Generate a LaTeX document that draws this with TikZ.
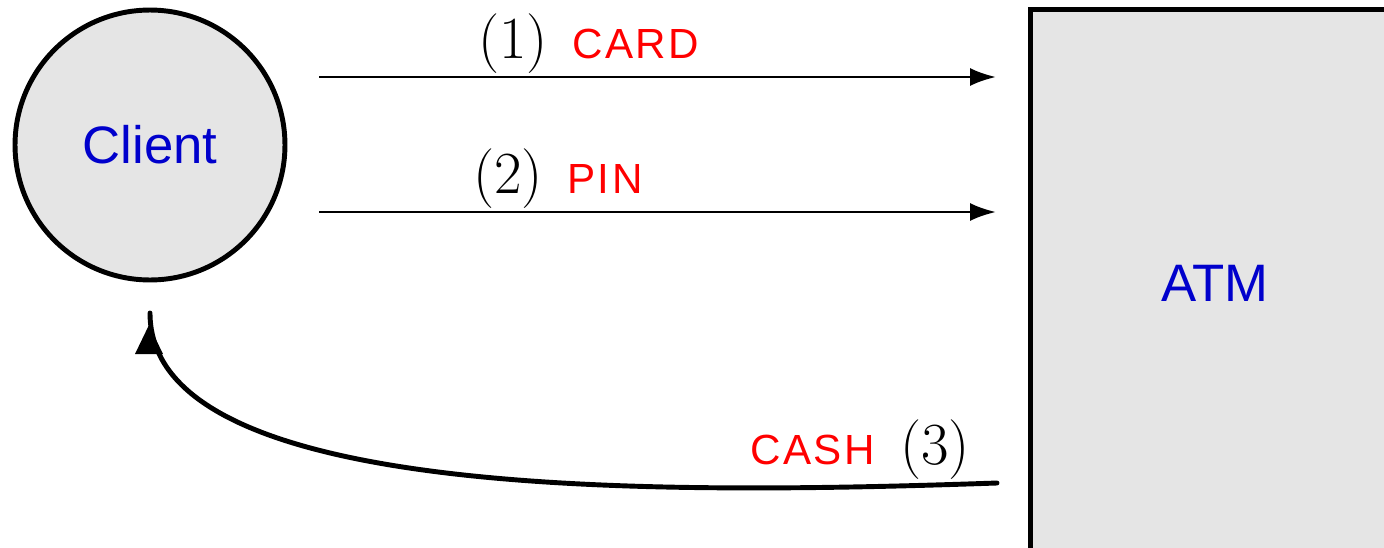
\documentclass[tikz,border=0pt]{standalone}
\usepackage{fontspec}
\newfontfamily\arialf{Liberation Sans}
\newfontfamily\labf[LetterSpace=6]{Liberation Sans}
\usetikzlibrary{arrows.meta}
\definecolor{nodeblue}{RGB}{0,0,204}
\definecolor{labred}{RGB}{255,0,0}
\definecolor{fillgray}{RGB}{229,229,229}
\begin{document}
\begin{tikzpicture}[x=0.02cm,y=-0.02cm,
  entity/.style={draw=black, line width=2.8pt, fill=fillgray, inner sep=0pt,
    font=\arialf\fontsize{30}{36}\selectfont, text=nodeblue},
  msg/.style={line width=1.5pt, -{Latex[length=14.7pt,width=10.2pt]}},
  ret/.style={line width=2.8pt, line cap=round},
  num/.style={anchor=base west, inner sep=0pt, font=\rmfamily\fontsize{34}{40}\selectfont},
  word/.style={anchor=base west, inner sep=0pt, font=\labf\fontsize{24}{29}\selectfont, text=labred}]
\useasboundingbox (0,0) rectangle (1384,548);
\node[entity, circle, minimum size=5.4cm] (client) at (150,145) {Client};
\node[entity, rectangle, minimum width=7.4cm, minimum height=10.96cm] (atm) at (1215,283) {ATM};
\coordinate (s1) at (319,77);
\coordinate (e1) at (996,77);
\coordinate (s2) at (319,212);
\coordinate (e2) at (996,212);
\coordinate (s3) at (997,483);
\coordinate (e3) at (150,313);
\draw[msg] (s1) -- (e1);
\draw[msg] (s2) -- (e2);
\draw[ret] (s3) .. controls (650,495) and (150,500) .. (e3);
\fill (149,325) -- (135,354) -- (163,354) -- cycle;
\node[num] (n1) at (478,58) {(1)};
\node[word] (w1) at (572,58) {CARD};
\node[num] (n2) at (473,193) {(2)};
\node[word] (w2) at (567,193) {PIN};
\node[word] (w3) at (750,464) {CASH};
\node[num] (n3) at (900,464) {(3)};
\end{tikzpicture}
\end{document}
